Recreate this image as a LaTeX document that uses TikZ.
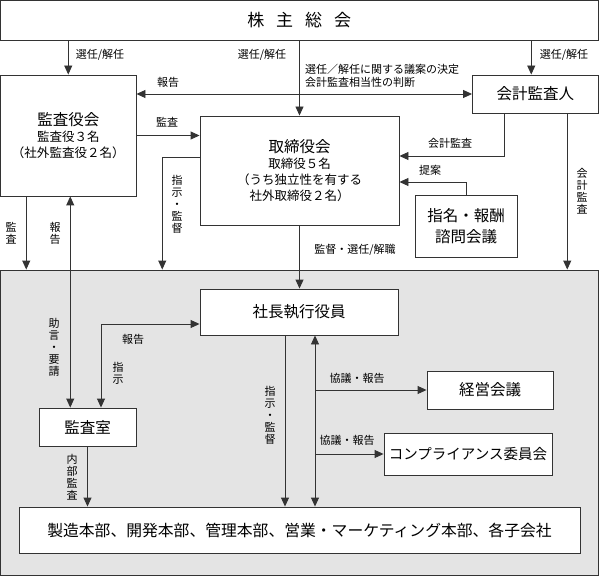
\documentclass[tikz,border=0pt]{standalone}
\usepackage{fontspec}
\setmainfont{Noto Sans CJK JP}
\usetikzlibrary{arrows.meta}
\definecolor{ln}{HTML}{333333}
\definecolor{bg}{HTML}{E4E4E4}
\begin{document}
\begin{tikzpicture}[x=1pt,y=-1pt,
  box/.style={draw=ln, line width=0.9pt, fill=white, inner sep=0pt, align=center},
  arr/.style={draw=ln, line width=0.9pt, -{Triangle[length=9pt,width=8pt]}},
  darr/.style={draw=ln, line width=0.9pt, {Triangle[length=9pt,width=8pt]}-{Triangle[length=9pt,width=8pt]}},
  lab/.style={font=\fontsize{11}{13}\selectfont, inner sep=0pt},
  vlab/.style={font=\fontsize{11}{12}\selectfont, inner sep=0pt, align=center},
  ttl/.style={font=\fontsize{15.5}{18}\selectfont},
]
\useasboundingbox (0,0) rectangle (599,577);
% background region
\node[box, fill=bg, minimum width=597.5pt, minimum height=305pt] (gray) at (299.25,422.5) {};
% boxes
\node[box, minimum width=597.5pt, minimum height=39.5pt, font=\fontsize{17}{20}\selectfont] (soukai) at (299.25,20.25) {株\hspace{12pt}主\hspace{12pt}総\hspace{12pt}会};
\node[box, minimum width=135.5pt, minimum height=121pt, font=\fontsize{12.5}{16}\selectfont] (kyk) at (68.25,135.5) {{\fontsize{15.5}{18}\selectfont 監査役会}\\監査役３名\\（社外監査役２名）};
\node[box, ttl, minimum width=125.5pt, minimum height=38pt] (kaikei) at (535.25,94) {会計監査人};
\node[box, minimum width=199pt, minimum height=109pt, font=\fontsize{12.5}{16}\selectfont] (tori) at (299.5,170.5) {{\fontsize{15.5}{18}\selectfont 取締役会}\\取締役５名\\（うち独立性を有する\\社外取締役２名）};
\node[box, minimum width=102pt, minimum height=62pt, font=\fontsize{15.5}{21}\selectfont] (shimei) at (466,226) {指名・報酬\\諮問会議};
\node[box, ttl, minimum width=198pt, minimum height=46pt] (shacho) at (299,312) {社長執行役員};
\node[box, ttl, minimum width=97pt, minimum height=38pt] (ks) at (87.5,427) {監査室};
\node[box, ttl, minimum width=126pt, minimum height=38pt] (keiei) at (490,390) {経営会議};
\node[box, minimum width=168pt, minimum height=42pt, font=\fontsize{14.5}{17}\selectfont] (comp) at (468,454) {コンプライアンス委員会};
\node[box, minimum width=561pt, minimum height=46pt, font=\fontsize{15.8}{18}\selectfont] (bottom) at (299.5,530) {製造本部、開発本部、管理本部、営業・マーケティング本部、各子会社};
% connectors
\coordinate (k3) at ([xshift=-4pt]kaikei.north);
\draw[arr] (soukai.south -| kyk.north) -- (kyk.north);
\draw[arr] (soukai.south -| tori.north) -- (tori.north);
\draw[arr] (k3 |- soukai.south) -- (k3);
\draw[darr] (kyk.east |- kaikei.west) -- (kaikei.west);
\draw[arr] (kyk.east) -- (kyk.east -| tori.west);
\coordinate (a6) at ([yshift=13.5pt]tori.west);
\coordinate (b6) at ([xshift=-137pt]gray.north);
\draw[arr] (a6) -| (b6);
\coordinate (a7) at ([xshift=-42pt]kyk.south);
\draw[arr] (a7) -- (a7 |- gray.north);
\coordinate (a8) at ([xshift=2pt]kyk.south);
\draw[darr] (a8) -- (a8 |- ks.north);
\coordinate (a9) at ([xshift=-31pt]kaikei.south);
\coordinate (b9) at ([yshift=14.5pt]tori.east);
\draw[arr] (a9) |- (b9);
\coordinate (b10) at ([yshift=-11.5pt]tori.east);
\draw[arr] (shimei.north) |- (b10);
\coordinate (a11) at ([xshift=32pt]kaikei.south);
\draw[arr] (a11) -- (a11 |- gray.north);
\draw[arr] (tori.south) -- (tori.south |- shacho.north);
\coordinate (a13) at ([yshift=-12pt]shacho.west);
\coordinate (b13) at ([xshift=13.5pt]ks.north);
\draw[darr] (a13) -| (b13);
\coordinate (a14) at ([xshift=-14pt]shacho.south);
\draw[arr] (a14) -- (a14 |- bottom.north);
\coordinate (a15) at ([xshift=16pt]shacho.south);
\draw[darr] (a15) -- (a15 |- bottom.north);
\draw[arr] (a15 |- keiei.west) -- (keiei.west);
\draw[arr] (a15 |- comp.west) -- (comp.west);
\draw[arr] (ks.south) -- (ks.south |- bottom.north);
% labels
\node[lab] (l1) at (100,55) {選任/解任};
\node[lab] (l2) at (262,55) {選任/解任};
\node[lab] (l3) at (564,55) {選任/解任};
\node[lab, align=left, anchor=west] (l4) at (305,75.5) {選任／解任に関する議案の決定\\会計監査相当性の判断};
\node[lab] (l5) at (168,82) {報告};
\node[lab] (l6) at (167,122) {監査};
\node[vlab] (l7) at (177,204) {指\\示\\・\\監\\督};
\node[vlab] (l8) at (11,233) {監\\査};
\node[vlab] (l9) at (55,233) {報\\告};
\node[lab] (l10) at (450,143) {会計監査};
\node[lab] (l11) at (430,170) {提案};
\node[vlab] (l12) at (582,191) {会\\計\\監\\査};
\node[lab] (l13) at (355,250) {監督・選任/解職};
\node[vlab] (l14) at (54,347) {助\\言\\・\\要\\請};
\node[lab] (l15) at (133,339) {報告};
\node[vlab] (l16) at (118,373) {指\\示};
\node[vlab] (l17) at (270,415) {指\\示\\・\\監\\督};
\node[lab] (l18) at (357,378) {協議・報告};
\node[lab] (l19) at (347,440) {協議・報告};
\node[vlab] (l20) at (72,477) {内\\部\\監\\査};
\end{tikzpicture}
\end{document}
